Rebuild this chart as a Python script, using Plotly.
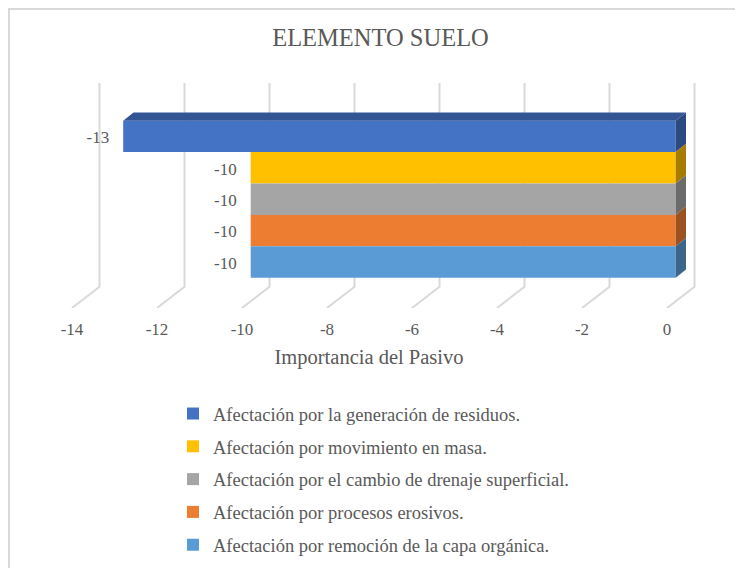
import plotly.graph_objects as go

# datos, de arriba hacia abajo
series = [
    "Afectación por la generación de residuos.",
    "Afectación por movimiento en masa.",
    "Afectación por el cambio de drenaje superficial.",
    "Afectación por procesos erosivos.",
    "Afectación por remoción de la capa orgánica.",
]
values = [-13, -10, -10, -10, -10]
labels = ["-13", "-10", "-10", "-10", "-10"]
tick_vals = [-14, -12, -10, -8, -6, -4, -2, 0]
tick_text = ["-14", "-12", "-10", "-8", "-6", "-4", "-2", "0"]

front_colors = ["#4472C4", "#FFC000", "#A5A5A5", "#ED7D31", "#5B9BD5"]
side_colors = ["#2B4A80", "#A67D00", "#6B6B6B", "#9B5220", "#3B658B"]
top_color = "#335593"
grid_color = "#D9D9D9"
text_color = "#595959"
font = "Liberation Serif"

# la pagina deja 8 px de margen, la figura ocupa el resto de la ventana
PAGE = 8
W, H = 743 - PAGE, 568 - PAGE
# area del grafico en pixeles de la figura y escalas
px_left, px_right, px_top, px_bottom = 10, 712, 62, 300
px_per_unit = 42.5
px_per_band = 31.4
zero_floor = 659      # el 0 en el borde frontal del piso
zero_bars = 667.7     # el 0 en el frente de las barras
band0 = 254           # centro de la barra inferior

x_range = [(px_left - zero_floor) / px_per_unit, (px_right - zero_floor) / px_per_unit]
x2_range = [(px_left - zero_bars) / px_per_unit, (px_right - zero_bars) / px_per_unit]
y_range = [(band0 - px_bottom) / px_per_band, (band0 - px_top) / px_per_band]

# profundidad del efecto 3D
floor_dx, floor_dy = 27.5 / px_per_unit, 21.3 / px_per_band
bar_dx, bar_dy = 10.3 / px_per_unit, 8.3 / px_per_band
wall_top = (band0 - 75) / px_per_band
label_gap = 14 / px_per_unit
label_drop = 2.5 / px_per_band

fig = go.Figure()

# lineas de division: piso y pared
for t in tick_vals:
    fig.add_trace(go.Scatter(
        x=[t, t + floor_dx, t + floor_dx],
        y=[y_range[0], y_range[0] + floor_dy, wall_top],
        mode="lines",
        line=dict(color=grid_color, width=2),
        hoverinfo="skip",
        showlegend=False,
    ))

n = len(values)
for i, (name, val) in enumerate(zip(series, values)):
    pos = n - 1 - i
    fig.add_trace(go.Bar(
        name=name,
        y=[pos],
        x=[val],
        orientation="h",
        width=1,
        xaxis="x2",
        marker=dict(color=front_colors[i], line=dict(width=0)),
        legendgroup=name,
        hovertemplate="%{x}<extra>" + name + "</extra>",
    ))
    # cara lateral
    fig.add_trace(go.Scatter(
        x=[0, bar_dx, bar_dx, 0, 0],
        y=[pos - 0.5, pos - 0.5 + bar_dy, pos + 0.5 + bar_dy, pos + 0.5, pos - 0.5],
        xaxis="x2",
        mode="lines",
        fill="toself",
        fillcolor=side_colors[i],
        line=dict(width=0),
        hoverinfo="skip",
        showlegend=False,
    ))

# cara superior de la barra de arriba
fig.add_trace(go.Scatter(
    x=[values[0], values[0] + bar_dx, bar_dx, 0, values[0]],
    y=[n - 0.5, n - 0.5 + bar_dy, n - 0.5 + bar_dy, n - 0.5, n - 0.5],
    xaxis="x2",
    mode="lines",
    fill="toself",
    fillcolor=top_color,
    line=dict(width=0),
    hoverinfo="skip",
    showlegend=False,
))

# etiquetas de datos
fig.add_trace(go.Scatter(
    x=[v - label_gap for v in values],
    y=[n - 1 - i - label_drop for i in range(n)],
    xaxis="x2",
    mode="text",
    text=labels,
    textposition="middle left",
    textfont=dict(family=font, size=17, color=text_color),
    hoverinfo="skip",
    showlegend=False,
))

# Habillage
fig.update_layout(
    width=W,
    height=H,
    margin=dict(t=0, b=0, l=0, r=0, autoexpand=False),
    plot_bgcolor="white",
    paper_bgcolor="white",
    font=dict(family=font, color=text_color),
    title=dict(
        text="ELEMENTO SUELO",
        x=(380.5 - PAGE) / W,
        xanchor="center",
        y=1 - (37 - PAGE) / H,
        yanchor="middle",
        font=dict(family=font, size=24.5, color=text_color),
    ),
    barmode="overlay",
    showlegend=True,
    legend=dict(
        x=165 / W,
        xanchor="left",
        y=1 - 387 / H,
        yanchor="top",
        tracegroupgap=5.75,
        bgcolor="rgba(0,0,0,0)",
        font=dict(family=font, size=18.5, color=text_color),
    ),
    xaxis=dict(
        domain=[px_left / W, px_right / W],
        range=x_range,
        tickmode="array",
        tickvals=tick_vals,
        ticktext=tick_text,
        tickfont=dict(family=font, size=17, color=text_color),
        showgrid=False,
        zeroline=False,
        showline=False,
        ticks="outside",
        ticklen=6,
        tickcolor="rgba(0,0,0,0)",
        automargin=False,
        title=dict(text="Importancia del Pasivo", standoff=11,
                   font=dict(family=font, size=20.5, color=text_color)),
    ),
    xaxis2=dict(
        domain=[px_left / W, px_right / W],
        range=x2_range,
        overlaying="x",
        anchor="y",
        visible=False,
    ),
    yaxis=dict(
        domain=[1 - px_bottom / H, 1 - px_top / H],
        range=y_range,
        visible=False,
    ),
    shapes=[dict(
        type="rect", xref="paper", yref="paper",
        x0=1 / W, x1=1.01, y0=-0.01, y1=1 - 1 / H,
        line=dict(color=grid_color, width=2),
        layer="below",
    )],
)

fig.write_html("out.html")
